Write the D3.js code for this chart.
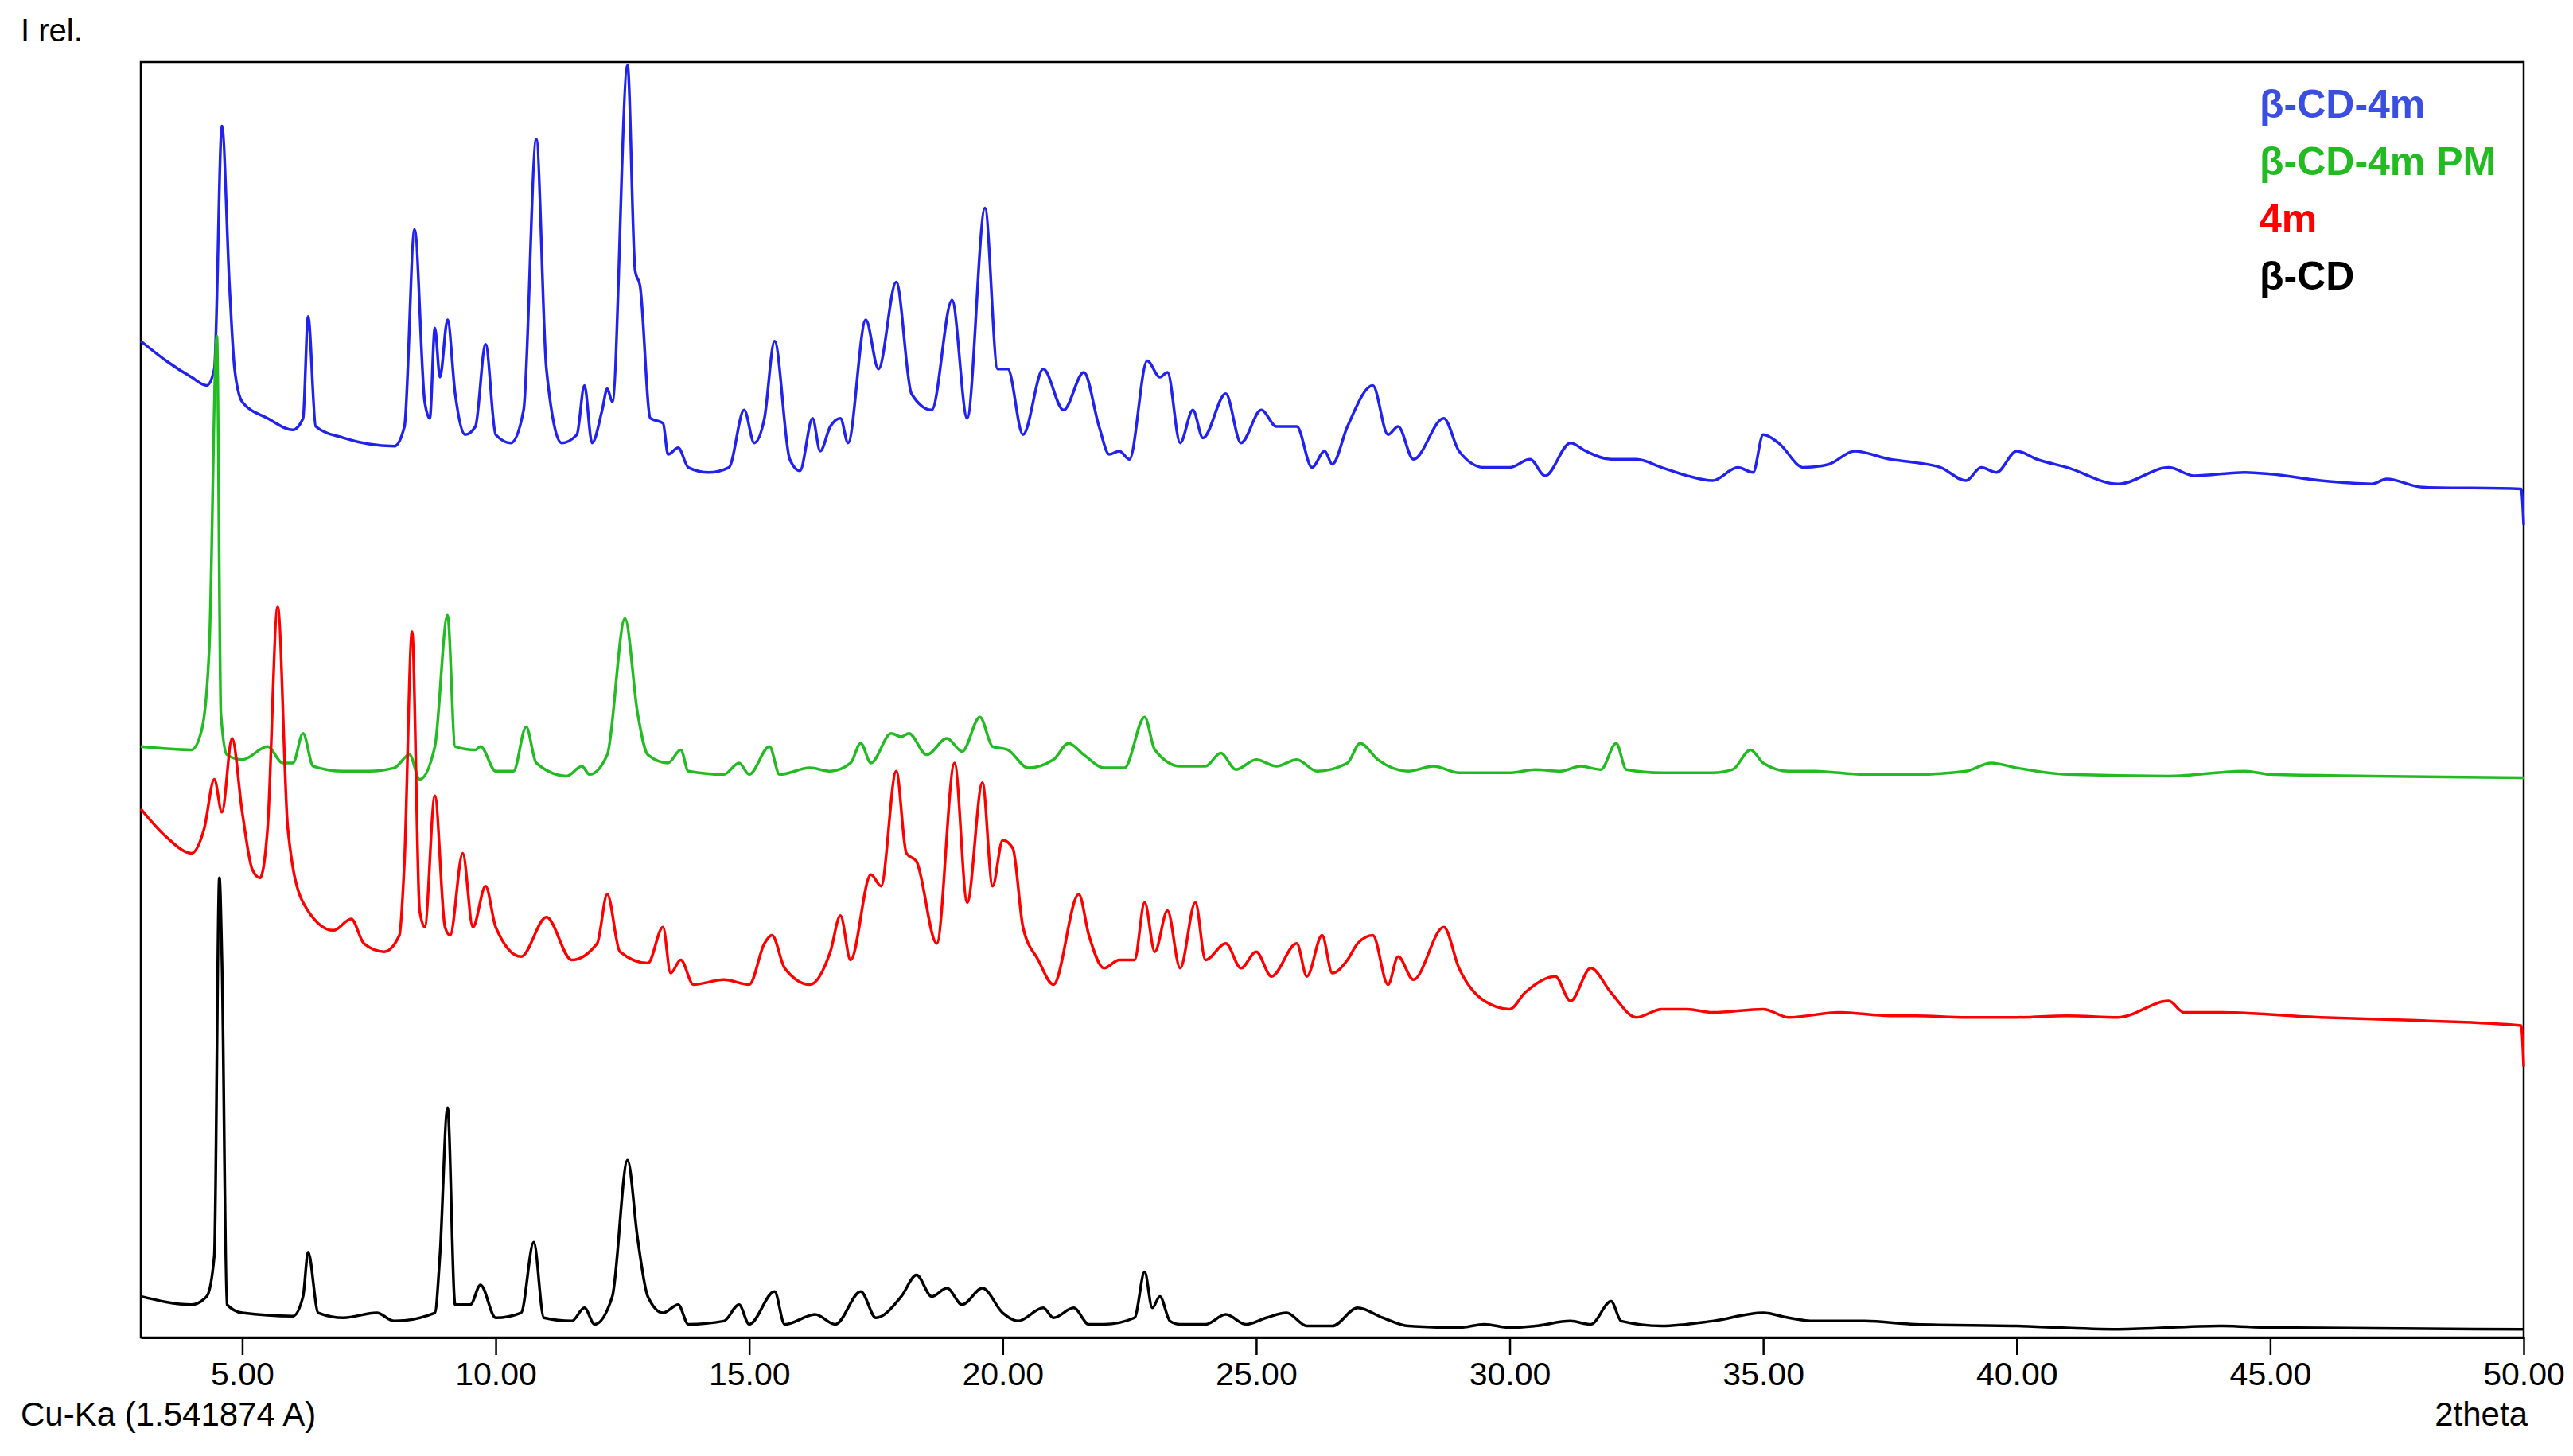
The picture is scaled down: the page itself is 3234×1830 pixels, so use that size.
<!DOCTYPE html>
<html><head><meta charset="utf-8">
<script src="https://cdn.jsdelivr.net/npm/d3@7"></script>
<style>body{margin:0;background:#fff}svg{display:block;font-family:Arial,"Liberation Sans",sans-serif}</style>
</head><body><svg id="c" width="3234" height="1830"></svg>
<script>
const tickValues=[5,10,15,20,25,30,35,40,45,50];
const seriesNames=["β-CD-4m","β-CD-4m PM","4m","β-CD"];
const seriesColors=["#2222ee","#22bb22","#ff0000","#000000"];
const cd4m=[[3.0,607],[3.5,595],[4.0,585],[4.3,580],[4.45,590],[4.6,738],[4.75,640],[4.85,590],[5.0,570],[5.5,560],[6.0,553],[6.2,560],[6.3,622],[6.45,555],[7.0,548],[8.0,543],[8.2,555],[8.4,675],[8.6,570],[8.7,560],[8.8,615],[8.9,585],[9.05,620],[9.2,575],[9.4,550],[9.6,555],[9.8,605],[10.0,550],[10.3,545],[10.55,565],[10.8,730],[11.0,590],[11.3,545],[11.6,550],[11.75,580],[11.9,545],[12.1,565],[12.2,578],[12.3,570],[12.6,775],[12.75,650],[12.85,640],[13.05,560],[13.3,557],[13.4,538],[13.6,542],[13.8,530],[14.2,527],[14.6,530],[14.9,565],[15.1,545],[15.3,560],[15.5,607],[15.8,535],[16.0,528],[16.25,560],[16.4,540],[16.6,555],[16.8,560],[16.95,545],[17.3,620],[17.55,590],[17.9,643],[18.2,575],[18.6,565],[19.0,632],[19.3,560],[19.65,688],[19.9,590],[20.1,590],[20.4,550],[20.8,590],[21.2,565],[21.6,588],[21.9,555],[22.1,538],[22.3,540],[22.5,535],[22.85,595],[23.1,585],[23.25,588],[23.5,545],[23.75,565],[23.95,548],[24.4,575],[24.7,545],[25.1,565],[25.4,555],[25.8,555],[26.1,530],[26.35,540],[26.5,532],[26.8,555],[27.3,580],[27.6,550],[27.8,555],[28.1,535],[28.7,560],[29.0,540],[29.5,530],[30.0,530],[30.4,535],[30.7,525],[31.2,545],[31.5,540],[32.0,535],[32.5,535],[33.0,530],[33.5,525],[34.0,522],[34.5,530],[34.8,527],[35.0,550],[35.3,545],[35.8,530],[36.3,532],[36.8,540],[37.5,535],[38.0,533],[38.5,530],[39.0,522],[39.3,530],[39.6,527],[40.0,540],[40.4,535],[41.0,530],[42.0,520],[43.0,530],[43.5,525],[44.5,527],[45.0,526],[46.0,522],[47.0,520],[47.3,523],[48.0,518],[49.95,517],[50.0,495]];
const cd4mPM=[[3.0,360],[4.0,358],[4.2,370],[4.35,420],[4.5,610],[4.58,380],[4.7,355],[5.0,352],[5.5,360],[5.8,350],[6.0,350],[6.2,368],[6.4,348],[7.0,345],[7.5,345],[8.0,347],[8.3,355],[8.5,340],[8.8,360],[9.05,440],[9.2,360],[9.6,358],[9.7,360],[10.0,345],[10.35,345],[10.6,372],[10.8,350],[11.4,342],[11.7,348],[11.85,343],[12.2,355],[12.55,438],[12.8,380],[13.0,355],[13.4,350],[13.65,358],[13.8,345],[14.5,343],[14.8,350],[15.0,343],[15.4,360],[15.6,343],[16.2,347],[16.6,345],[17.0,350],[17.2,362],[17.4,350],[17.8,368],[18.0,366],[18.15,368],[18.5,355],[18.9,365],[19.2,357],[19.55,378],[19.8,360],[20.1,358],[20.5,347],[21.0,352],[21.3,362],[21.6,355],[22.0,347],[22.4,347],[22.8,378],[23.0,358],[23.5,348],[24.0,348],[24.3,356],[24.6,346],[25.0,352],[25.4,348],[25.8,352],[26.2,345],[26.8,350],[27.05,362],[27.4,352],[28.0,345],[28.5,348],[29.0,344],[30.0,344],[30.5,346],[31.0,345],[31.4,348],[31.8,346],[32.1,362],[32.3,346],[33.0,344],[34.0,344],[34.4,346],[34.75,358],[35.0,350],[35.5,345],[36.0,345],[37.0,343],[38.0,343],[39.0,345],[39.5,350],[40.0,347],[41.0,343],[43.0,342],[44.5,345],[45.0,343],[47.0,342],[50.0,341]];
const m4=[[3.0,322],[3.5,305],[4.0,295],[4.25,310],[4.45,340],[4.6,320],[4.8,365],[5.0,320],[5.2,285],[5.35,280],[5.5,310],[5.7,445],[5.9,310],[6.2,265],[6.8,248],[7.15,255],[7.4,240],[7.8,235],[8.1,245],[8.2,290],[8.35,430],[8.5,260],[8.6,250],[8.8,330],[9.0,250],[9.1,245],[9.35,295],[9.55,250],[9.8,275],[10.0,250],[10.5,232],[11.0,256],[11.5,230],[12.0,240],[12.2,270],[12.45,235],[13.0,228],[13.3,250],[13.45,222],[13.65,230],[13.9,215],[14.5,218],[15.0,215],[15.3,240],[15.45,245],[15.7,225],[16.2,215],[16.6,235],[16.8,257],[17.0,230],[17.4,282],[17.6,275],[17.9,345],[18.1,295],[18.3,290],[18.7,240],[19.05,350],[19.3,265],[19.6,338],[19.8,275],[20.0,303],[20.2,298],[20.4,250],[20.7,230],[21.0,215],[21.5,270],[21.7,245],[22.0,225],[22.3,230],[22.6,230],[22.8,265],[23.0,235],[23.25,260],[23.5,225],[23.8,265],[24.0,230],[24.4,240],[24.7,225],[25.0,235],[25.3,220],[25.8,240],[26.0,220],[26.3,245],[26.5,222],[26.8,230],[27.0,240],[27.3,245],[27.6,215],[27.8,232],[28.1,218],[28.7,250],[29.0,225],[29.5,205],[30.0,200],[30.3,210],[30.9,220],[31.2,205],[31.6,225],[32.0,210],[32.5,195],[33.0,200],[33.5,200],[34.0,198],[35.0,200],[35.5,195],[36.5,198],[37.5,196],[38.0,196],[39.0,195],[40.0,195],[41.0,196],[42.0,195],[43.0,205],[43.3,198],[44.0,198],[46.0,195],[48.0,193],[49.95,190],[50.0,165]];
const cd=[[3.0,25],[4.0,20],[4.3,25],[4.45,50],[4.55,280],[4.6,230],[4.7,20],[5.0,15],[6.0,13],[6.2,25],[6.3,52],[6.5,15],[7.0,12],[7.65,15],[8.0,10],[8.8,15],[8.9,50],[9.05,140],[9.2,20],[9.5,20],[9.7,32],[10.0,12],[10.5,15],[10.75,58],[10.95,12],[11.5,10],[11.75,18],[11.95,8],[12.3,25],[12.6,108],[12.8,60],[13.0,25],[13.3,15],[13.6,20],[13.8,8],[14.5,10],[14.8,20],[15.0,8],[15.5,28],[15.7,8],[16.3,14],[16.7,8],[17.2,28],[17.5,12],[18.0,25],[18.3,38],[18.6,25],[18.9,30],[19.2,20],[19.6,30],[20.0,15],[20.3,10],[20.8,18],[21.0,12],[21.4,18],[21.7,8],[22.0,8],[22.6,12],[22.8,40],[22.95,18],[23.1,25],[23.3,10],[23.5,8],[24.0,8],[24.4,14],[24.8,8],[25.2,12],[25.6,15],[26.0,7],[26.5,7],[27.0,18],[27.5,12],[28.0,7],[29.0,6],[29.5,8],[30.0,6],[30.5,7],[31.2,10],[31.6,8],[32.0,22],[32.2,10],[33.0,7],[34.0,10],[35.0,15],[35.5,12],[36.0,10],[37.0,10],[38.0,8],[40.0,7],[42.0,5],[44.0,7],[45.0,6],[50.0,5]];
const allSeries=[cd4m,cd4mPM,m4,cd];

const svg=d3.select("#c");
const L=177,R=3172,T=78,B=1681;
const x=d3.scaleLinear().domain([3,50]).range([L,R]);
const y=d3.scaleLinear().domain([0,777]).range([B,T]);
svg.append("rect").attr("x",L).attr("y",T).attr("width",R-L).attr("height",B-T).attr("fill","none").attr("stroke","#000").attr("stroke-width",2.5);
const ax=svg.append("g").attr("transform",`translate(0,${B})`).call(d3.axisBottom(x).tickValues(tickValues).tickFormat(d3.format(".2f")).tickSize(22).tickSizeOuter(0));
ax.select(".domain").attr("stroke-width",3);
ax.selectAll("line").attr("stroke-width",2.5);
ax.selectAll("text").attr("font-size",41).attr("dy","0.85em").attr("fill","#000");
const line=d3.line().x(d=>x(d[0])).y(d=>y(d[1])).curve(d3.curveMonotoneX);
allSeries.forEach((s,i)=>svg.append("path").attr("d",line(s)).attr("fill","none").attr("stroke",seriesColors[i]).attr("stroke-width",3.5));
svg.append("text").attr("x",26).attr("y",52).attr("font-size",40).text("I rel.");
svg.append("text").attr("x",26).attr("y",1792).attr("font-size",42).text("Cu-Ka (1.541874 A)");
svg.append("text").attr("x",R+5).attr("y",1792).attr("font-size",42).attr("text-anchor","end").text("2theta");
const legendColors=["#3a4fe0","#22bb22","#ff0000","#000000"];
seriesNames.forEach((n,i)=>svg.append("text").attr("x",2840).attr("y",148+i*72).attr("font-size",50).attr("font-weight","bold").attr("fill",legendColors[i]).text(n));
</script></body></html>
